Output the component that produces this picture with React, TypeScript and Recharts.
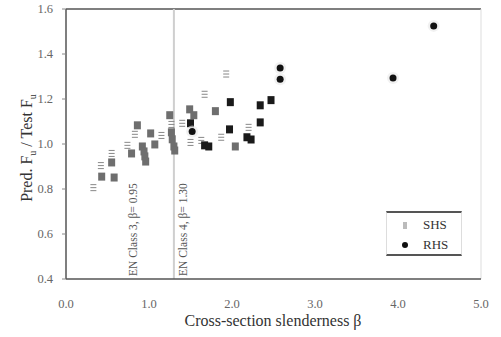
import {
  ScatterChart,
  Scatter,
  XAxis,
  YAxis,
  ReferenceLine,
} from "recharts";

const FONT = "Liberation Serif";

// beta = cross-section slenderness, ratio = predicted / test ultimate load
const shsSolid = [
  { beta: 0.43, ratio: 0.855 },
  { beta: 0.58, ratio: 0.851 },
  { beta: 0.55, ratio: 0.918 },
  { beta: 0.79, ratio: 0.958 },
  { beta: 0.86, ratio: 1.083 },
  { beta: 0.92, ratio: 0.989 },
  { beta: 0.94, ratio: 0.967 },
  { beta: 0.95, ratio: 0.945 },
  { beta: 0.96, ratio: 0.922 },
  { beta: 1.02, ratio: 1.047 },
  { beta: 1.07, ratio: 0.998 },
  { beta: 1.25, ratio: 1.128 },
  { beta: 1.27, ratio: 1.052 },
  { beta: 1.28, ratio: 1.021 },
  { beta: 1.3, ratio: 0.989 },
  { beta: 1.31, ratio: 0.971 },
  { beta: 1.49, ratio: 1.154 },
  { beta: 1.54, ratio: 1.128 },
  { beta: 1.8, ratio: 1.146 },
  { beta: 2.04, ratio: 0.989 },
];

const shsOpen = [
  { beta: 0.33, ratio: 0.806 },
  { beta: 0.42, ratio: 0.904 },
  { beta: 0.55, ratio: 0.958 },
  { beta: 0.74, ratio: 0.994 },
  { beta: 0.83, ratio: 1.043 },
  { beta: 1.15, ratio: 1.038 },
  { beta: 1.27, ratio: 1.087 },
  { beta: 1.4, ratio: 1.092 },
  { beta: 1.5, ratio: 1.007 },
  { beta: 1.63, ratio: 1.016 },
  { beta: 1.67, ratio: 1.221 },
  { beta: 1.93, ratio: 1.311 },
  { beta: 1.87, ratio: 1.03 },
  { beta: 2.2, ratio: 1.074 },
];

const rhsSquare = [
  { beta: 1.5, ratio: 1.092 },
  { beta: 1.67, ratio: 0.994 },
  { beta: 1.72, ratio: 0.989 },
  { beta: 1.98, ratio: 1.186 },
  { beta: 1.97, ratio: 1.065 },
  { beta: 2.18, ratio: 1.03 },
  { beta: 2.23, ratio: 1.02 },
  { beta: 2.34, ratio: 1.172 },
  { beta: 2.47, ratio: 1.195 },
  { beta: 2.34, ratio: 1.096 },
];

const rhsRound = [
  { beta: 1.52, ratio: 1.056 },
  { beta: 2.58, ratio: 1.338 },
  { beta: 2.58, ratio: 1.288 },
  { beta: 3.94, ratio: 1.293 },
  { beta: 4.43, ratio: 1.525 },
];

const xTicks = [0, 1, 2, 3, 4, 5];
const yTicks = [0.4, 0.6, 0.8, 1.0, 1.2, 1.4, 1.6];

const classLimits = [
  { beta: 0.95, text: "EN Class 3, β= 0.95", dx: -8, stroke: "none" },
  { beta: 1.3, text: "EN Class 4, β= 1.30", dx: 13, stroke: "#cfcfcf" },
];

const legendItems = ["SHS", "RHS"];

function GraySquare(props: any) {
  const { cx, cy } = props;
  return <rect x={cx - 3.5} y={cy - 4} width={7} height={8} fill="#6e6e6e" />;
}

function OpenMark(props: any) {
  const { cx, cy } = props;
  return (
    <g stroke="#888" strokeWidth={1}>
      <line x1={cx - 3} x2={cx + 3} y1={cy - 3} y2={cy - 3} />
      <line x1={cx - 3} x2={cx + 3} y1={cy} y2={cy} />
      <line x1={cx - 3} x2={cx + 3} y1={cy + 3} y2={cy + 3} />
    </g>
  );
}

function BlackSquare(props: any) {
  const { cx, cy } = props;
  return <rect x={cx - 3.5} y={cy - 4} width={7} height={8} fill="#1a1a1a" />;
}

function BlackDot(props: any) {
  const { cx, cy } = props;
  return (
    <g>
      <circle cx={cx} cy={cy} r={6} fill="#e8e8e8" opacity={0.6} />
      <circle cx={cx} cy={cy} r={3.5} fill="#111" />
    </g>
  );
}

function ClassLabel(text: string, dx: number) {
  return (props: any) => {
    const { viewBox } = props;
    const x = viewBox.x + dx;
    const y = viewBox.y + viewBox.height - 3;
    return (
      <text
        x={x}
        y={y}
        transform={`rotate(-90 ${x} ${y})`}
        fontFamily={FONT}
        fontSize={11.5}
        fill="#555"
      >
        {text}
      </text>
    );
  };
}

function YTitle(props: any) {
  const { viewBox } = props;
  const x = viewBox.x + 32;
  const y = viewBox.y + 139;
  return (
    <text
      x={x}
      y={y}
      transform={`rotate(-90 ${x} ${y})`}
      textAnchor="middle"
      fontFamily={FONT}
      fontSize={16}
      fill="#333"
    >
      Pred. F
      <tspan fontSize={10} dy={4}>u</tspan>
      <tspan dy={-4}> / Test F</tspan>
      <tspan fontSize={10} dy={4}>u</tspan>
    </text>
  );
}

function XTitle(props: any) {
  const { viewBox } = props;
  return (
    <text
      x={viewBox.x + 207}
      y={viewBox.y + 47}
      textAnchor="middle"
      fontFamily={FONT}
      fontSize={16}
      fill="#333"
    >
      Cross-section slenderness β
    </text>
  );
}

function LegendBox() {
  return (
    <div
      style={{
        position: "absolute",
        left: 386,
        top: 211,
        width: 76,
        height: 45,
        paddingTop: 2,
        boxSizing: "border-box",
        borderTop: "2px solid #555",
        borderBottom: "2px solid #555",
        borderLeft: "1px solid #ddd",
        borderRight: "1px solid #ddd",
        fontFamily: FONT,
        fontSize: 13,
        color: "#333",
        background: "#fff",
      }}
    >
      {legendItems.map((label) => (
        <div
          key={label}
          style={{ display: "flex", alignItems: "center", height: 20 }}
        >
          <div style={{ width: 36, display: "flex", justifyContent: "center" }}>
            {label === "SHS" ? (
              <div style={{ width: 4, height: 7, background: "#bbb" }} />
            ) : (
              <div
                style={{
                  width: 6,
                  height: 6,
                  borderRadius: 3,
                  background: "#111",
                }}
              />
            )}
          </div>
          <span>{label}</span>
        </div>
      ))}
    </div>
  );
}

export default function App() {
  return (
    <div
      style={{
        position: "absolute",
        left: 0,
        top: 0,
        width: 501,
        height: 337,
        background: "#fff",
      }}
    >
      <ScatterChart
        width={501}
        height={337}
        margin={{ top: 9, right: 20, left: 0, bottom: 0 }}
      >
        <XAxis
          type="number"
          dataKey="beta"
          domain={[0, 5]}
          ticks={xTicks}
          tickFormatter={(v) => v.toFixed(1)}
          height={58}
          axisLine={{ stroke: "#555", strokeWidth: 1.5 }}
          tickLine={false}
          tickMargin={14}
          tick={{ fontFamily: FONT, fontSize: 12.5, fill: "#666" }}
          label={<XTitle />}
        />
        <YAxis
          type="number"
          dataKey="ratio"
          domain={[0.4, 1.6]}
          ticks={yTicks}
          tickFormatter={(v) => v.toFixed(1)}
          width={66}
          axisLine={{ stroke: "#555", strokeWidth: 1.5 }}
          tickLine={{ stroke: "#888" }}
          tickSize={4}
          tickMargin={9}
          tick={{ fontFamily: FONT, fontSize: 12.5, fill: "#666" }}
          label={<YTitle />}
        />
        <ReferenceLine y={1.6} stroke="#555" strokeWidth={1.5} />
        <ReferenceLine x={5} stroke="#ddd" strokeWidth={1} />
        {classLimits.map((c) => (
          <ReferenceLine
            key={c.beta}
            x={c.beta}
            stroke={c.stroke}
            strokeWidth={2}
            label={ClassLabel(c.text, c.dx)}
          />
        ))}
        <Scatter
          name="SHS"
          data={shsSolid}
          shape={GraySquare}
          isAnimationActive={false}
        />
        <Scatter
          name="SHS open"
          data={shsOpen}
          shape={OpenMark}
          isAnimationActive={false}
        />
        <Scatter
          name="RHS"
          data={rhsSquare}
          shape={BlackSquare}
          isAnimationActive={false}
        />
        <Scatter
          name="RHS round"
          data={rhsRound}
          shape={BlackDot}
          isAnimationActive={false}
        />
      </ScatterChart>
      <LegendBox />
    </div>
  );
}
